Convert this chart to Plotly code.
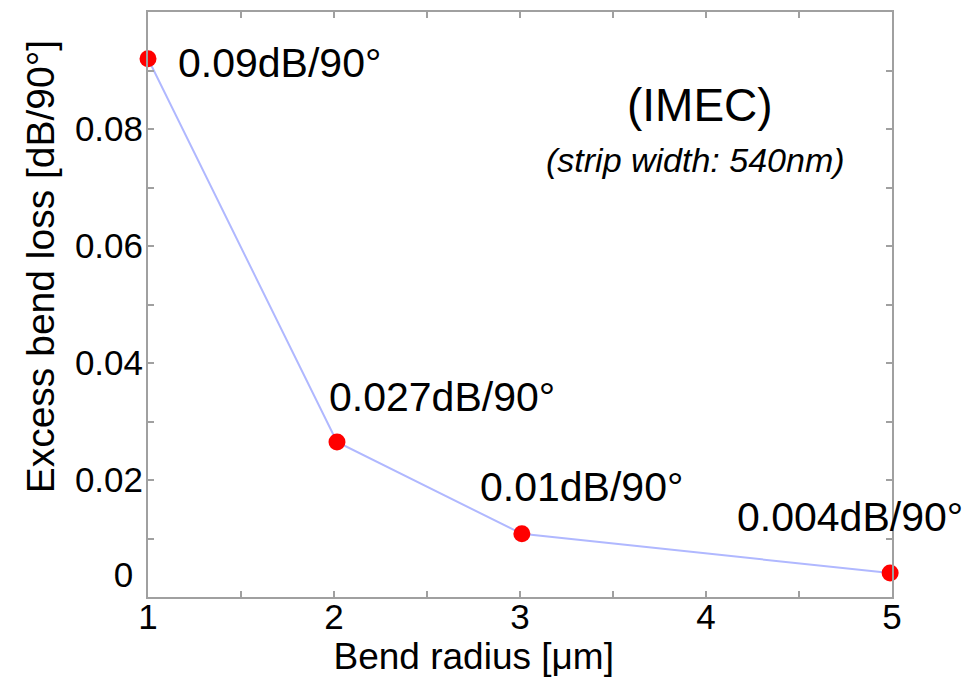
import plotly.graph_objects as go

radius = [1.0, 2.016, 3.01, 4.99]
loss = [0.092, 0.0265, 0.0108, 0.0041]
point_labels = ["0.09dB/90°", "0.027dB/90°", "0.01dB/90°", "0.004dB/90°"]
label_x = [1.15, 1.962, 2.774, 4.156]
label_y = [0.0913, 0.0342, 0.0188, 0.0137]
y_ticks = [0, 0.02, 0.04, 0.06, 0.08]
y_ticktext = ["0&nbsp;<br>&nbsp;", "0.02", "0.04", "0.06", "0.08"]
x_ticks = [1, 2, 3, 4, 5]

FONT = "Liberation Sans, Arial, sans-serif"
NB = "&nbsp;"

fig = go.Figure()
fig.add_trace(go.Scatter(
    x=radius, y=loss, mode="lines",
    line=dict(color="#b0b8ff", width=2),
    cliponaxis=False, showlegend=False, hoverinfo="skip"))
fig.add_trace(go.Scatter(
    x=radius, y=loss, mode="markers",
    marker=dict(color="#ff0000", size=17),
    cliponaxis=False, showlegend=False))

for t, xx, yy in zip(point_labels, label_x, label_y):
    fig.add_annotation(x=xx, y=yy, xref="x", yref="y", text=t, showarrow=False,
                       xanchor="left", yanchor="middle",
                       font=dict(family=FONT, size=41, color="black"))

fig.add_annotation(x=3.968, y=0.0841, xref="x", yref="y", text="(IMEC)", showarrow=False,
                   xanchor="center", yanchor="middle",
                   font=dict(family=FONT, size=46, color="black"))
fig.add_annotation(x=3.946, y=0.0747, xref="x", yref="y", text="<i>(strip width: 540nm)</i>",
                   showarrow=False, xanchor="center", yanchor="middle",
                   font=dict(family=FONT, size=34, color="black"))

axis_common = dict(
    showline=True, linecolor="#a0a0a0", linewidth=2, mirror="ticks",
    ticks="inside", ticklen=6, tickwidth=1.5, tickcolor="#a0a0a0",
    showgrid=False, zeroline=False, automargin=False,
    tickfont=dict(family=FONT, size=35, color="black"),
)

fig.update_xaxes(
    range=[1, 5], tickvals=x_ticks, ticklabelstandoff=-12,
    minor=dict(dtick=0.5, ticks="inside", ticklen=6, tickcolor="#a0a0a0", tickwidth=1.5, showgrid=False),
    title=dict(text="Bend radius [μm]" + NB * 9, font=dict(family=FONT, size=37, color="black"), standoff=4),
    **axis_common)
fig.update_yaxes(
    range=[0, 0.1], tickvals=y_ticks, ticktext=y_ticktext, ticklabelstandoff=-4,
    minor=dict(dtick=0.01, ticks="inside", ticklen=6, tickcolor="#a0a0a0", tickwidth=1.5, showgrid=False),
    title=dict(text=NB * 7 + "Excess bend loss [dB/90°]", font=dict(family=FONT, size=39, color="black"), standoff=8),
    **axis_common)

fig.update_layout(
    width=971, height=677,
    margin=dict(l=148, r=79, t=12, b=80),
    plot_bgcolor="white", paper_bgcolor="white",
    font=dict(family=FONT, color="black"),
)

fig.write_html("out.html")
